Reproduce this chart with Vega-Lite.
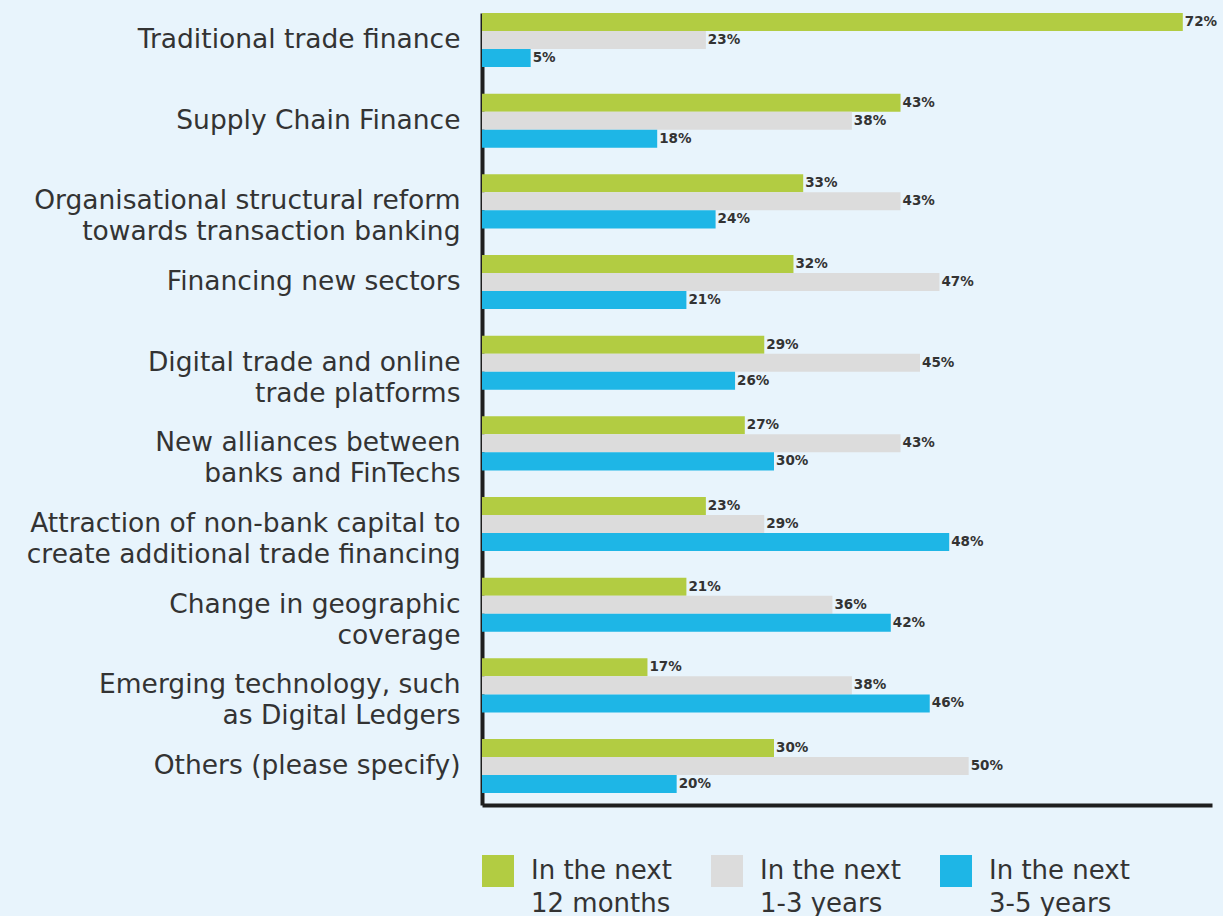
{
  "$schema": "https://vega.github.io/schema/vega-lite/v6.json",
  "width": 730,
  "height": 792,
  "autosize": {"type": "none"},
  "padding": {"left": 482, "top": 13, "right": 11, "bottom": 111},
  "background": "#E8F4FC",
  "config": {"view": {"stroke": null}, "font": "DejaVu Sans"},
  "data": {
    "values": [
      {"category": "Traditional trade finance", "series": "In the next\n12 months", "value": 0.72},
      {"category": "Traditional trade finance", "series": "In the next\n1-3 years", "value": 0.23},
      {"category": "Traditional trade finance", "series": "In the next\n3-5 years", "value": 0.05},
      {"category": "Supply Chain Finance", "series": "In the next\n12 months", "value": 0.43},
      {"category": "Supply Chain Finance", "series": "In the next\n1-3 years", "value": 0.38},
      {"category": "Supply Chain Finance", "series": "In the next\n3-5 years", "value": 0.18},
      {"category": "Organisational structural reform\ntowards transaction banking", "series": "In the next\n12 months", "value": 0.33},
      {"category": "Organisational structural reform\ntowards transaction banking", "series": "In the next\n1-3 years", "value": 0.43},
      {"category": "Organisational structural reform\ntowards transaction banking", "series": "In the next\n3-5 years", "value": 0.24},
      {"category": "Financing new sectors", "series": "In the next\n12 months", "value": 0.32},
      {"category": "Financing new sectors", "series": "In the next\n1-3 years", "value": 0.47},
      {"category": "Financing new sectors", "series": "In the next\n3-5 years", "value": 0.21},
      {"category": "Digital trade and online\ntrade platforms", "series": "In the next\n12 months", "value": 0.29},
      {"category": "Digital trade and online\ntrade platforms", "series": "In the next\n1-3 years", "value": 0.45},
      {"category": "Digital trade and online\ntrade platforms", "series": "In the next\n3-5 years", "value": 0.26},
      {"category": "New alliances between\nbanks and FinTechs", "series": "In the next\n12 months", "value": 0.27},
      {"category": "New alliances between\nbanks and FinTechs", "series": "In the next\n1-3 years", "value": 0.43},
      {"category": "New alliances between\nbanks and FinTechs", "series": "In the next\n3-5 years", "value": 0.30},
      {"category": "Attraction of non-bank capital to\ncreate additional trade financing", "series": "In the next\n12 months", "value": 0.23},
      {"category": "Attraction of non-bank capital to\ncreate additional trade financing", "series": "In the next\n1-3 years", "value": 0.29},
      {"category": "Attraction of non-bank capital to\ncreate additional trade financing", "series": "In the next\n3-5 years", "value": 0.48},
      {"category": "Change in geographic\ncoverage", "series": "In the next\n12 months", "value": 0.21},
      {"category": "Change in geographic\ncoverage", "series": "In the next\n1-3 years", "value": 0.36},
      {"category": "Change in geographic\ncoverage", "series": "In the next\n3-5 years", "value": 0.42},
      {"category": "Emerging technology, such\nas Digital Ledgers", "series": "In the next\n12 months", "value": 0.17},
      {"category": "Emerging technology, such\nas Digital Ledgers", "series": "In the next\n1-3 years", "value": 0.38},
      {"category": "Emerging technology, such\nas Digital Ledgers", "series": "In the next\n3-5 years", "value": 0.46},
      {"category": "Others (please specify)", "series": "In the next\n12 months", "value": 0.30},
      {"category": "Others (please specify)", "series": "In the next\n1-3 years", "value": 0.50},
      {"category": "Others (please specify)", "series": "In the next\n3-5 years", "value": 0.20}
    ]
  },
  "encoding": {
    "y": {
      "field": "category",
      "type": "nominal",
      "scale": {
        "domain": [
          "Traditional trade finance",
          "Supply Chain Finance",
          "Organisational structural reform\ntowards transaction banking",
          "Financing new sectors",
          "Digital trade and online\ntrade platforms",
          "New alliances between\nbanks and FinTechs",
          "Attraction of non-bank capital to\ncreate additional trade financing",
          "Change in geographic\ncoverage",
          "Emerging technology, such\nas Digital Ledgers",
          "Others (please specify)"
        ],
        "paddingInner": 0.33,
        "paddingOuter": 0.074,
        "align": 0,
        "round": false
      },
      "axis": {
        "title": null,
        "ticks": false,
        "tickSize": 0,
        "domain": true,
        "domainColor": "#1e1e1e",
        "domainWidth": 4,
        "labelExpr": "split(datum.value, '\\n')",
        "labelFont": "DejaVu Sans",
        "labelFontSize": 26.5,
        "labelColor": "#333333",
        "labelLineHeight": 31,
        "labelPadding": 22,
        "labelLimit": 0,
        "labelAlign": "right",
        "labelBaseline": "middle"
      }
    },
    "yOffset": {
      "field": "series",
      "type": "nominal",
      "scale": {
        "domain": ["In the next\n12 months", "In the next\n1-3 years", "In the next\n3-5 years"],
        "paddingInner": 0,
        "paddingOuter": 0
      }
    },
    "x": {
      "field": "value",
      "type": "quantitative",
      "scale": {"domain": [0, 0.75], "nice": false, "clamp": false},
      "axis": {
        "title": null,
        "labels": false,
        "ticks": false,
        "tickSize": 0,
        "grid": false,
        "domain": true,
        "domainColor": "#1e1e1e",
        "domainWidth": 4
      }
    }
  },
  "layer": [
    {
      "mark": {"type": "bar"},
      "encoding": {
        "color": {
          "field": "series",
          "type": "nominal",
          "scale": {
            "domain": ["In the next\n12 months", "In the next\n1-3 years", "In the next\n3-5 years"],
            "range": ["#B2CC42", "#DCDCDC", "#1EB6E6"]
          },
          "legend": {
            "title": null,
            "orient": "bottom",
            "direction": "horizontal",
            "symbolType": "square",
            "symbolSize": 1024,
            "symbolStrokeWidth": 0,
            "symbolOpacity": 1,
            "labelExpr": "split(datum.label, '\\n')",
            "labelFont": "DejaVu Sans",
            "labelFontSize": 26,
            "labelColor": "#333333",
            "labelOffset": 17,
            "labelLimit": 0,
            "columnPadding": 39,
            "offset": 50,
            "encode": {"labels": {"update": {"lineHeight": {"value": 33}}}}
          }
        }
      }
    },
    {
      "mark": {"type": "text", "align": "left", "baseline": "middle", "dx": 2, "font": "DejaVu Sans", "fontWeight": "bold", "fontSize": 13.5, "color": "#333333"},
      "encoding": {
        "text": {"field": "value", "type": "quantitative", "format": ".0%"}
      }
    }
  ]
}
